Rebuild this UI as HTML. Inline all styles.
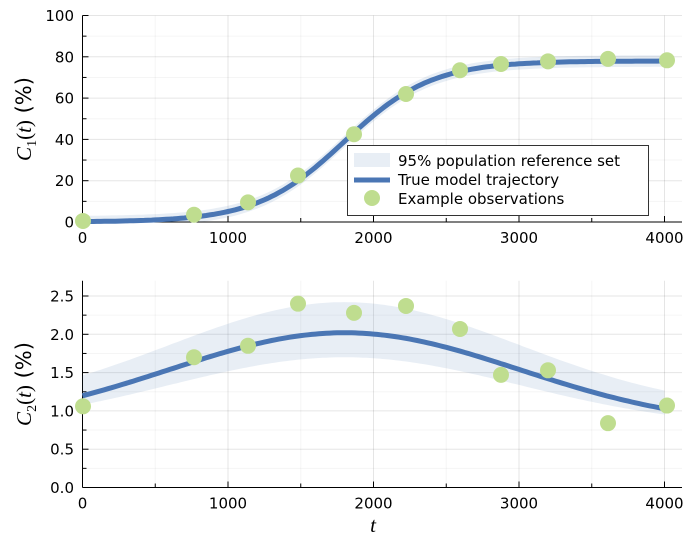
<!DOCTYPE html><html><head><style>body{margin:0;background:#fff}svg{font-family:"DejaVu Sans","Liberation Sans",sans-serif}</style></head><body>
<svg id="s" width="694" height="555" xmlns="http://www.w3.org/2000/svg"></svg>
<script>
const s=document.getElementById('s');let h='';
const R=682;
const X=t=>82.5+t*0.1455;
const Y1=v=>222-v*2.065;
const Y2=v=>487.5-v*76.6;
const f1=t=>78/(1+Math.exp(-(t-1800)/300));
const g=t=>Math.exp(-Math.pow((t-1800)/1700,2));
const f2=t=>0.8+1.22*g(t);
const u2=t=>1.0+1.42*g(t);
const l2=t=>0.75+0.92*g(t)+0.03;
function panel(Y,top,bot,ymaj,ymin){
 for(let t=500;t<=4000;t+=500){const x=X(t);h+=`<line x1="${x}" y1="${top}" x2="${x}" y2="${bot}" stroke="#000" stroke-opacity="${t%1000?0.04:0.1}"/>`;}
 ymin.forEach(v=>h+=`<line x1="82.5" y1="${Y(v)}" x2="${R}" y2="${Y(v)}" stroke="#000" stroke-opacity="0.04"/>`);
 ymaj.forEach(v=>h+=`<line x1="82.5" y1="${Y(v[0])}" x2="${R}" y2="${Y(v[0])}" stroke="#000" stroke-opacity="0.1"/>`);
 h+=`<line x1="82.5" y1="${top}" x2="82.5" y2="${bot}" stroke="#000"/><line x1="82.5" y1="${bot}" x2="${R}" y2="${bot}" stroke="#000"/>`;
 for(let t=0;t<=4000;t+=500){const x=X(t);h+=`<line x1="${x}" y1="${bot}" x2="${x}" y2="${bot-(t%1000?4:6)}" stroke="#000"/>`;if(t%1000==0)h+=`<text x="${x}" y="${bot+21}" font-size="15" text-anchor="middle">${t}</text>`;}
 ymaj.forEach(v=>{h+=`<line x1="82.5" y1="${Y(v[0])}" x2="88.5" y2="${Y(v[0])}" stroke="#000"/><text x="74" y="${Y(v[0])+5.5}" font-size="15" text-anchor="end">${v[1]}</text>`});
 ymin.forEach(v=>h+=`<line x1="82.5" y1="${Y(v)}" x2="86.5" y2="${Y(v)}" stroke="#000"/>`);
}
function path(fn,Y){let p='';for(let t=0;t<=4000;t+=25)p+=(t?'L':'M')+X(t).toFixed(1)+' '+Y(fn(t)).toFixed(1);return p;}
function band(up,lo,Y){let p='';for(let t=0;t<=4000;t+=25)p+=(t?'L':'M')+X(t).toFixed(1)+' '+Y(up(t)).toFixed(1);for(let t=4000;t>=0;t-=25)p+='L'+X(t).toFixed(1)+' '+Y(lo(t)).toFixed(1);return p+'Z';}
panel(Y1,15.5,222,[[0,0],[20,20],[40,40],[60,60],[80,80],[100,100]],[10,30,50,70,90]);
panel(Y2,280.7,487.5,[[0,'0.0'],[0.5,'0.5'],[1,'1.0'],[1.5,'1.5'],[2,'2.0'],[2.5,'2.5']],[0.25,0.75,1.25,1.75,2.25]);
const BC='#5b8ab8',BO=0.14;
h+=`<path d="${band(t=>f1(t)+2.8,t=>Math.max(0,f1(t)-2.8),Y1)}" fill="${BC}" fill-opacity="${BO}"/>`;
h+=`<path d="${path(f1,Y1)}" fill="none" stroke="#4a76b4" stroke-width="5"/>`;
h+=`<path d="${band(u2,l2,Y2)}" fill="${BC}" fill-opacity="${BO}"/>`;
h+=`<path d="${path(f2,Y2)}" fill="none" stroke="#4a76b4" stroke-width="5"/>`;
const xs=[83,194,248,298,354,406,460,501,548,608,667];
const c1=[0.5,3.5,9.5,22.5,42.5,62,73.5,76.5,77.8,79,78.3];
const c2=[1.06,1.70,1.85,2.40,2.28,2.37,2.07,1.47,1.53,0.84,1.07];
xs.forEach((x,i)=>{h+=`<circle cx="${x}" cy="${Y1(c1[i])}" r="8" fill="#bfdd8f"/><circle cx="${x}" cy="${Y2(c2[i])}" r="8" fill="#bfdd8f"/>`;});
h+=`<rect x="347.5" y="145.5" width="301" height="70" fill="#fff" stroke="#333"/>`;
h+=`<rect x="354" y="153" width="36" height="14" fill="${BC}" fill-opacity="${BO}"/><text x="398" y="166" font-size="15">95% population reference set</text>`;
h+=`<line x1="354" y1="180" x2="390" y2="180" stroke="#4a76b4" stroke-width="5"/><text x="398" y="185" font-size="15">True model trajectory</text>`;
h+=`<circle cx="372" cy="198" r="8" fill="#bfdd8f"/><text x="398" y="204" font-size="15">Example observations</text>`;
function yl(cx,cy,n){return `<text transform="translate(${cx},${cy}) rotate(-90)" font-size="21" text-anchor="middle"><tspan font-family="Liberation Serif,serif" font-style="italic">C</tspan><tspan font-family="Liberation Serif,serif" font-size="14" dy="5">${n}</tspan><tspan font-family="Liberation Serif,serif" dy="-5">(</tspan><tspan font-family="Liberation Serif,serif" font-style="italic">t</tspan><tspan font-family="Liberation Serif,serif">)</tspan> (%)</text>`;}
h+=yl(31,119,1)+yl(31,384,2);
h+=`<text x="373" y="532" font-size="21" font-family="Liberation Serif,serif" font-style="italic" text-anchor="middle">t</text>`;
s.innerHTML=h;
</script></body></html>
